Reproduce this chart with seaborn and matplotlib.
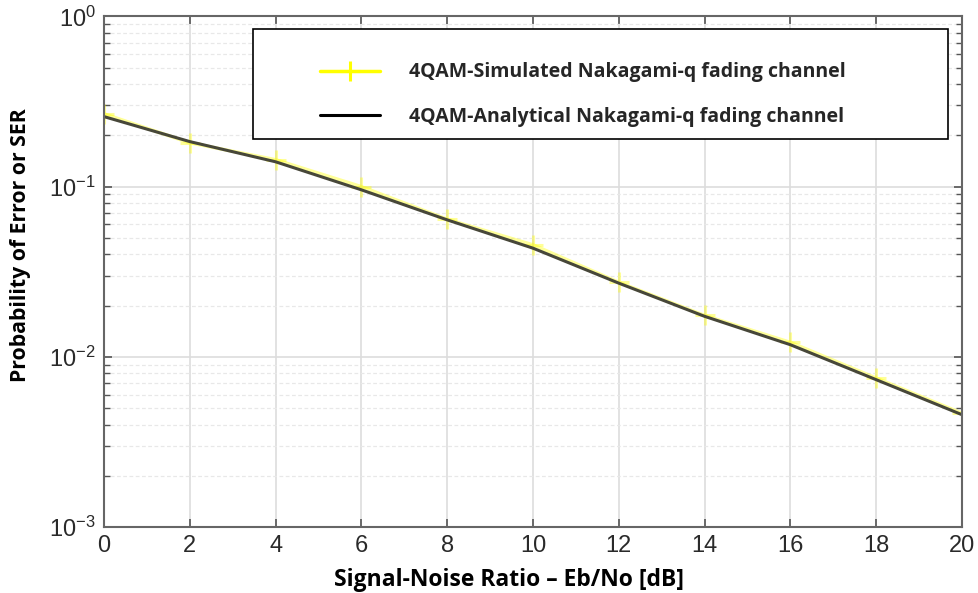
import numpy as np
import pandas as pd
import matplotlib
matplotlib.use("Agg")
import matplotlib.pyplot as plt
import matplotlib.ticker as mticker
from matplotlib.patches import Rectangle
import seaborn as sns

# Eb/No sweep in dB
snr_db = [0, 2, 4, 6, 8, 10, 12, 14, 16, 18, 20]
# Symbol error rate, Monte-Carlo simulation (4QAM over Nakagami-q)
ser_simulated = [0.268, 0.181, 0.144, 0.100, 0.0643, 0.0455, 0.0274, 0.0175, 0.01216, 0.0075, 0.00466]
# Symbol error rate, closed-form expression
ser_analytical = [0.258, 0.184, 0.140, 0.0958, 0.0638, 0.0435, 0.0271, 0.0173, 0.01178, 0.00734, 0.00457]

sim_label = "4QAM-Simulated Nakagami-q fading channel"
ana_label = "4QAM-Analytical Nakagami-q fading channel"

df = pd.DataFrame({
    "snr": snr_db + snr_db,
    "ser": ser_simulated + ser_analytical,
    "series": [sim_label] * len(snr_db) + [ana_label] * len(snr_db),
})

sns.set_theme(style="white")
plt.rcParams["font.family"] = ["Liberation Sans", "DejaVu Sans"]
plt.rcParams["mathtext.fontset"] = "custom"
plt.rcParams["mathtext.rm"] = "Liberation Sans"

fig = plt.figure(figsize=(9.79, 5.93), dpi=100)
ax = fig.add_axes([0.1062, 0.1113, 0.8764, 0.8609])

sns.lineplot(data=df[df.series == sim_label], x="snr", y="ser", ax=ax,
             color="#ffff00", lw=2.5, marker="+", markersize=14, mew=2.2,
             mec="#ffff00", mfc="#ffff00", label=sim_label, legend=False)
sns.lineplot(data=df[df.series == ana_label], x="snr", y="ser", ax=ax,
             color="black", lw=2.2, label=ana_label, legend=False)

ax.set_yscale("log")
ax.set_xlim(0, 20)
ax.set_ylim(1e-3, 1)
ax.set_xticks(np.arange(0, 21, 2))
ax.yaxis.set_major_locator(mticker.FixedLocator([1e-3, 1e-2, 1e-1, 1]))
ax.yaxis.set_major_formatter(mticker.FixedFormatter(
    [r"$\mathregular{10^{-3}}$", r"$\mathregular{10^{-2}}$",
     r"$\mathregular{10^{-1}}$", r"$\mathregular{10^{0}}$"]))
ax.yaxis.set_minor_locator(mticker.LogLocator(base=10, subs=np.arange(2, 10)))
ax.yaxis.set_minor_formatter(mticker.NullFormatter())

# grid
ax.grid(True, which="major", color="#dddddd", lw=1.2)
ax.grid(True, which="minor", axis="y", color="#e8e8e8", lw=0.9, ls=(0, (3, 2)))
ax.set_axisbelow(True)

# spines and inward ticks on all sides
for s in ax.spines.values():
    s.set_color("#666666")
    s.set_linewidth(1.5)
ax.tick_params(which="both", direction="in", top=True, right=True,
               bottom=True, left=True, color="#555555")
ax.tick_params(which="major", length=6, width=1.2, labelsize=17,
               labelcolor="#2a2a2a", pad=6)
ax.tick_params(which="minor", length=4, width=1.0)

ax.set_xlabel("Signal-Noise Ratio – Eb/No [dB]", family=["Open Sans", "DejaVu Sans"],
              fontweight="bold", fontsize=16.5, color="black")
ax.xaxis.set_label_coords(0.472, -0.08)
ax.set_ylabel("Probability of Error or SER", family=["Open Sans", "DejaVu Sans"],
              fontweight="bold", fontsize=15.3, color="black")
ax.yaxis.set_label_coords(-0.085, 0.552)

# legend box drawn as its own frame, entries placed inside it
ax.add_patch(Rectangle((0.1737, 0.7600), 0.810, 0.2155, transform=ax.transAxes,
                       facecolor="white", edgecolor="black", lw=1.2, zorder=5))
handles, labels = ax.get_legend_handles_labels()
leg = ax.legend(handles, labels, loc="center left", bbox_to_anchor=(0.2517, 0.847),
                frameon=False,
                prop={"family": ["Open Sans", "DejaVu Sans"], "weight": "bold", "size": 14},
                handlelength=3.1, handletextpad=1.5, labelspacing=1.25,
                borderpad=0, borderaxespad=0)
leg.set_zorder(6)

# soften the plotted curves after the legend has copied their styles
lines = ax.get_lines()
lines[0].set_alpha(0.4)
lines[1].set_color("#474739")

fig.savefig("out.png", dpi=100)
